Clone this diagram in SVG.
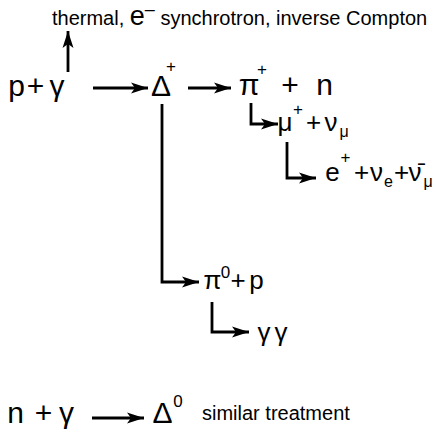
<svg xmlns="http://www.w3.org/2000/svg" width="436" height="434" viewBox="0 0 436 434">
<defs>
<marker id="ah" markerUnits="userSpaceOnUse" markerWidth="18" markerHeight="12" viewBox="-17 -6 18 12" refX="0" refY="0" orient="auto">
<path d="M0,0 L-17,-5.5 L-13,0 L-17,5.5 Z" fill="#000"/>
</marker>
</defs>
<style>
text{font-family:"Liberation Sans",Arial,sans-serif;fill:#000}
.big{font-size:30px}
.mid{font-size:26px}
.sup{font-size:17px}
.sub{font-size:16px}
.lab{font-size:20px}
.c{text-anchor:middle}
.ln{fill:none;stroke:#000;stroke-width:2.8;marker-end:url(#ah)}
</style>
<rect width="436" height="434" fill="#fff"/>
<g id="connectors">
<path class="ln" d="M68,72 V31"/>
<path class="ln" d="M93,88 H148"/>
<path class="ln" d="M188,88 H231"/>
<path class="ln" d="M162,104 V282 H199"/>
<path class="ln" d="M251,103 V124 H278"/>
<path class="ln" d="M287,142 V178 H316"/>
<path class="ln" d="M212,302 V332 H249"/>
<path class="ln" d="M92,418 H144"/>
</g>
<g id="top-label">
<text class="lab" x="52" y="25">thermal, <tspan font-size="27">e</tspan><tspan font-size="18" dy="-10">–</tspan><tspan dy="10"> synchrotron, inverse Compton</tspan></text>
</g>
<g id="p-gamma">
<text class="big c" x="16.5" y="96">p</text>
<text class="big c" x="35.5" y="96">+</text>
<text class="big c" x="57" y="96">γ</text>
</g>
<g id="delta-plus">
<text class="big c" x="161" y="96">Δ</text>
<text class="sup c" x="171" y="72">+</text>
</g>
<g id="pi-plus-n">
<text class="big c" x="249" y="95">π</text>
<text class="sup c" x="262" y="75">+</text>
<text class="big c" x="290" y="95">+</text>
<text class="big c" x="324.5" y="95">n</text>
</g>
<g id="mu-nu">
<text class="mid c" x="285" y="131">μ</text>
<text class="sup c" x="298" y="115">+</text>
<text class="mid c" x="313.5" y="131">+</text>
<text class="mid c" x="331" y="131">ν</text>
<text class="sub c" x="344" y="137">μ</text>
</g>
<g id="e-nu-nu">
<text class="mid c" x="332.5" y="181">e</text>
<text class="sup c" x="345.5" y="163">+</text>
<text class="mid c" x="361.5" y="181">+</text>
<text class="mid c" x="376.5" y="181">ν</text>
<text class="sub c" x="388.5" y="187">e</text>
<text class="mid c" x="401.5" y="181">+</text>
<text class="mid c" x="415" y="181">ν̄</text>
<text class="sub c" x="428" y="187">μ</text>
</g>
<g id="pi0-p">
<text class="mid c" x="212.5" y="289">π</text>
<text class="sup c" x="225.5" y="278">0</text>
<text class="mid c" x="238" y="289">+</text>
<text class="mid c" x="256.5" y="289">p</text>
</g>
<g id="gamma-gamma">
<text class="mid c" x="264" y="341">γ</text>
<text class="mid c" x="281" y="341">γ</text>
</g>
<g id="n-gamma">
<text class="big c" x="15.5" y="423">n</text>
<text class="big c" x="43.5" y="423">+</text>
<text class="big c" x="66.5" y="423">γ</text>
</g>
<g id="delta-zero">
<text class="big c" x="162.5" y="423">Δ</text>
<text class="sup c" x="178" y="407">0</text>
<text class="lab" x="202" y="420" font-size="20.5">similar treatment</text>
</g>
</svg>
